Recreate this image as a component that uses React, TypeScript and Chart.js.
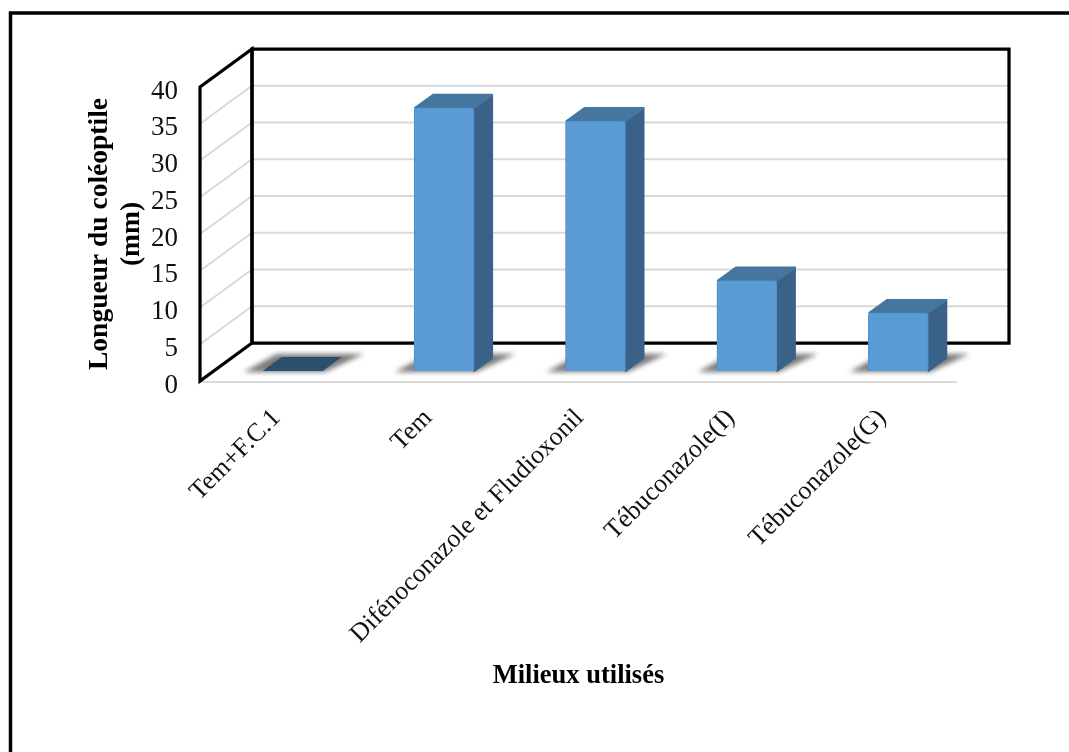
import React, { useEffect, useRef } from "react";
import { Chart, registerables } from "chart.js";

Chart.register(...registerables);

const categories = [
  "Tem+F.C.1",
  "Tem",
  "Difénoconazole et Fludioxonil",
  "Tébuconazole(I)",
  "Tébuconazole(G)",
];
const lengths = [0, 35.8, 34, 12.3, 7.9];
const yTicks = [0, 5, 10, 15, 20, 25, 30, 35, 40];
const yTitle = ["Longueur du coléoptile", "(mm)"];
const xTitle = "Milieux utilisés";

const SERIF = '"Liberation Serif", "Times New Roman", serif';
const WALL = { dx: 52, dy: -38 };
const BAR_SHIFT = { dx: 17, dy: -10 };
const BAR_DEPTH = { dx: 19, dy: -14 };

function polygon(ctx: CanvasRenderingContext2D, pts: number[][]) {
  ctx.beginPath();
  pts.forEach(([x, y], i) => (i ? ctx.lineTo(x, y) : ctx.moveTo(x, y)));
  ctx.closePath();
}

function segment(ctx: CanvasRenderingContext2D, pts: number[][]) {
  ctx.beginPath();
  pts.forEach(([x, y], i) => (i ? ctx.lineTo(x, y) : ctx.moveTo(x, y)));
  ctx.stroke();
}

// Page frame, back wall, side wall and floor of the 3D box.
const boxPlugin = {
  id: "box",
  beforeDatasetsDraw(chart: any) {
    const { ctx, chartArea: a, scales } = chart;
    const yS = scales.y;
    ctx.save();
    ctx.lineJoin = "miter";

    ctx.strokeStyle = "#000";
    ctx.lineWidth = 3.5;
    segment(ctx, [[10.5, chart.height], [10.5, 13], [chart.width, 13]]);

    ctx.strokeStyle = "#d9d9d9";
    ctx.lineWidth = 2;
    yTicks.forEach((v) => {
      const y = yS.getPixelForValue(v);
      if (v > 0 && v < 40) {
        segment(ctx, [[a.left, y], [a.left + WALL.dx, y + WALL.dy], [a.right + WALL.dx, y + WALL.dy]]);
      }
    });
    segment(ctx, [[a.left, a.bottom + 1], [a.right, a.bottom + 1]]);

    ctx.strokeStyle = "#000";
    ctx.lineWidth = 3.25;
    const top = yS.getPixelForValue(40);
    const base = yS.getPixelForValue(0);
    polygon(ctx, [
      [a.left + WALL.dx, top + WALL.dy],
      [a.right + WALL.dx, top + WALL.dy],
      [a.right + WALL.dx, base + WALL.dy],
      [a.left + WALL.dx, base + WALL.dy],
    ]);
    ctx.stroke();
    polygon(ctx, [
      [a.left, top],
      [a.left + WALL.dx, top + WALL.dy],
      [a.left + WALL.dx, base + WALL.dy],
      [a.left, base],
    ]);
    ctx.stroke();
    ctx.restore();

    // Everything belonging to the bars sits midway through the box depth.
    ctx.save();
    ctx.translate(BAR_SHIFT.dx, BAR_SHIFT.dy);
    const bars = chart.getDatasetMeta(0).data;
    const d = BAR_DEPTH;

    bars.forEach((b: any) => {
      const l = b.x - b.width / 2;
      const r = b.x + b.width / 2;
      ctx.save();
      ctx.filter = "blur(2.5px)";
      ctx.fillStyle = "rgba(100,100,100,0.85)";
      polygon(ctx, [
        [l - 19, b.base + 1],
        [r + 2, b.base + 1],
        [r + d.dx + 22, b.base + d.dy - 3],
        [l + 14, b.base + d.dy - 3],
      ]);
      ctx.fill();
      ctx.restore();
    });

    bars.forEach((b: any, i: number) => {
      const raised = lengths[i] > 0;
      const inset = raised ? 1 : 0;
      const l = b.x - b.width / 2;
      const r = b.x + b.width / 2;
      const t = b.y;
      ctx.lineJoin = "round";
      ctx.lineWidth = 2;

      if (raised) {
        ctx.fillStyle = ctx.strokeStyle = "#3a6289";
        polygon(ctx, [
          [r, t],
          [r + d.dx - 1, t + d.dy + 1],
          [r + d.dx - 1, b.base + d.dy + 1],
          [r, b.base],
        ]);
        ctx.fill();
        ctx.stroke();
      }

      ctx.fillStyle = ctx.strokeStyle = raised ? "#44769f" : "#2c4f70";
      polygon(ctx, [
        [l + inset, t],
        [r, t],
        [r + d.dx - inset, t + d.dy + inset],
        [l + d.dx, t + d.dy + inset],
      ]);
      ctx.fill();
      if (raised) ctx.stroke();
    });
    ctx.restore();

    ctx.save();
    ctx.translate(BAR_SHIFT.dx, BAR_SHIFT.dy);
  },
  afterDatasetsDraw(chart: any) {
    chart.ctx.restore();
  },
};

export default function App() {
  const ref = useRef<HTMLCanvasElement | null>(null);

  useEffect(() => {
    const chart = new Chart(ref.current!, {
      type: "bar",
      data: {
        labels: categories,
        datasets: [
          {
            data: lengths,
            backgroundColor: "#5b9bd5",
            borderColor: "#4f8fc9",
            borderWidth: 1,
            borderRadius: 3,
            barThickness: 60,
            clip: false as any,
          },
        ],
      },
      plugins: [boxPlugin],
      options: {
        animation: false,
        responsive: false,
        devicePixelRatio: 1,
        layout: {
          autoPadding: false,
          padding: { left: 84, right: 112, top: 87, bottom: 60 },
        },
        plugins: { legend: { display: false }, tooltip: { enabled: false } },
        scales: {
          x: {
            grid: { display: false },
            border: { display: false },
            ticks: {
              autoSkip: false,
              minRotation: 45,
              maxRotation: 45,
              padding: 14,
              labelOffset: 1,
              color: "#111",
              font: { family: SERIF, size: 26 },
            },
            title: {
              display: true,
              text: xTitle,
              color: "#000",
              font: { family: SERIF, size: 26.5, weight: "bold" },
              padding: { top: 0, bottom: 0 },
            },
            afterFit(s: any) {
              s.height = 311;
            },
          },
          y: {
            min: 0,
            max: 40,
            grid: { display: false },
            border: { display: false },
            ticks: {
              stepSize: 5,
              padding: 14,
              labelOffset: 4.5,
              color: "#111",
              font: { family: SERIF, size: 27 },
            },
            title: {
              display: true,
              text: yTitle,
              color: "#000",
              font: { family: SERIF, size: 27.5, weight: "bold", lineHeight: 1.15 },
              padding: { top: 0, bottom: 0 },
            },
            afterFit(s: any) {
              s.width = 116;
            },
          },
        },
      },
    });
    return () => chart.destroy();
  }, []);

  return (
    <div style={{ position: "fixed", inset: 0, background: "#fff" }}>
      <canvas ref={ref} width={1069} height={752} style={{ display: "block" }} />
    </div>
  );
}
